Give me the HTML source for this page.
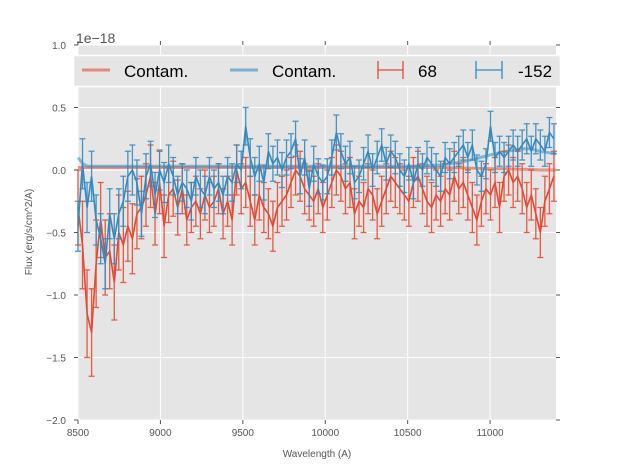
<!DOCTYPE html>
<html><head><meta charset="utf-8"><style>
body{margin:0;background:#fff}
svg{display:block;font-family:"Liberation Sans","DejaVu Sans",sans-serif}
</style></head><body>
<svg id="chart" width="617" height="467" viewBox="0 0 617 467">
<rect x="0" y="0" width="617" height="467" fill="#fff"/>
<rect x="78" y="45" width="478" height="375" fill="#e5e5e5"/>
<g id="grid"></g>
<g id="contam"></g>
<g id="series"></g>
<g id="axes"></g>
<text x="76" y="43" font-size="14" fill="#555">1e−18</text>
<text x="317" y="457" font-size="10" fill="#555" text-anchor="middle">Wavelength (A)</text>
<text x="32" y="232" font-size="10" fill="#555" text-anchor="middle" transform="rotate(-90 32 232)">Flux (erg/s/cm^2/A)</text>
<g>
<rect x="73.5" y="55.5" width="487" height="31" fill="#e5e5e5" stroke="#fff" stroke-width="1.5"/>
<line x1="82" y1="70" x2="110" y2="70" stroke="#E24A33" stroke-opacity="0.6" stroke-width="3"/>
<text x="124" y="77" font-size="17" fill="#000">Contam.</text>
<line x1="230" y1="70" x2="258" y2="70" stroke="#348ABD" stroke-opacity="0.6" stroke-width="3"/>
<text x="272" y="77" font-size="17" fill="#000">Contam.</text>
<g stroke="#E24A33" stroke-width="1.3"><line x1="378" y1="70" x2="403" y2="70"/><line x1="378" y1="61" x2="378" y2="79"/><line x1="403" y1="61" x2="403" y2="79"/></g>
<text x="418" y="77" font-size="17" fill="#000">68</text>
<g stroke="#348ABD" stroke-width="1.3"><line x1="476" y1="70" x2="502" y2="70"/><line x1="476" y1="61" x2="476" y2="79"/><line x1="502" y1="61" x2="502" y2="79"/></g>
<text x="518" y="77" font-size="17" fill="#000">-152</text>
</g>
</svg>
<script>
const xTicks = [8500, 9000, 9500, 10000, 10500, 11000];
const yTicks = [-2.0, -1.5, -1.0, -0.5, 0.0, 0.5, 1.0];
const yTickLabels = ["−2.0", "−1.5", "−1.0", "−0.5", "0.0", "0.5", "1.0"];
const wavelengthStart = 8500;
const wavelengthStep = 27.5;
const redFlux = [-0.3,-0.6,-1.15,-1.3,-0.75,-0.4,-0.7,-0.65,-0.9,-0.5,-0.6,-0.45,-0.55,-0.35,-0.3,-0.2,-0.05,-0.35,-0.1,-0.45,
-0.2,-0.15,-0.3,-0.15,-0.4,-0.3,-0.25,-0.35,-0.2,-0.3,-0.25,-0.15,-0.35,-0.25,-0.4,0.0,-0.15,-0.1,-0.25,-0.4,
-0.2,-0.3,-0.35,-0.45,-0.3,-0.25,-0.2,-0.1,0.0,-0.05,-0.15,-0.2,-0.25,-0.15,-0.3,-0.2,-0.1,0.0,-0.05,-0.15,
-0.1,-0.35,-0.25,-0.3,-0.15,-0.2,-0.35,-0.25,-0.15,-0.05,-0.1,-0.15,-0.2,-0.25,-0.1,-0.05,-0.15,-0.25,-0.3,-0.2,
-0.25,-0.15,-0.2,-0.05,-0.15,-0.1,-0.2,-0.3,-0.4,-0.25,-0.15,-0.2,-0.1,-0.3,-0.05,0.0,-0.1,-0.05,-0.15,-0.3,
-0.2,-0.35,-0.5,-0.25,-0.15,-0.05];
const redErr = [0.3,0.35,0.35,0.35,0.35,0.3,0.3,0.3,0.3,0.3,0.3,0.28,0.28,0.28,0.25,0.25,0.25,0.25,0.25,0.25,
0.22,0.22,0.22,0.2,0.2,0.2,0.2,0.2,0.2,0.2,0.2,0.2,0.2,0.2,0.2,0.2,0.2,0.2,0.2,0.2,
0.2,0.2,0.2,0.2,0.2,0.2,0.2,0.2,0.2,0.2,0.2,0.2,0.2,0.2,0.2,0.2,0.2,0.2,0.2,0.2,
0.2,0.2,0.2,0.2,0.2,0.2,0.2,0.2,0.2,0.2,0.2,0.2,0.2,0.2,0.2,0.2,0.2,0.2,0.2,0.2,
0.2,0.2,0.2,0.2,0.2,0.2,0.2,0.2,0.2,0.2,0.2,0.2,0.2,0.2,0.2,0.2,0.2,0.2,0.2,0.2,
0.2,0.2,0.2,0.2,0.2,0.2];
const blueFlux = [-0.45,0.05,-0.3,-0.05,-0.4,-0.55,-0.75,-0.35,-0.55,-0.35,-0.25,-0.05,0.0,-0.1,-0.35,-0.05,0.05,-0.2,0.0,-0.1,
0.05,-0.05,-0.2,-0.1,-0.15,-0.25,-0.05,-0.15,-0.2,-0.05,-0.15,-0.1,-0.2,-0.05,-0.1,0.05,0.0,0.35,0.1,-0.05,
0.05,-0.1,0.15,0.05,0.1,0.0,0.1,0.15,0.25,-0.05,0.1,-0.15,0.05,-0.05,-0.1,-0.05,0.1,0.3,0.15,0.05,
0.1,-0.1,-0.05,0.05,0.15,0.0,0.1,0.2,0.05,0.15,0.1,0.0,-0.05,0.05,-0.1,0.05,0.0,0.1,0.05,0.0,
-0.05,0.1,0.05,0.1,0.15,0.2,0.1,0.2,0.0,-0.05,0.05,0.35,0.1,0.15,0.1,0.15,0.2,0.15,0.2,0.25,
0.15,0.25,0.2,0.15,0.3,0.25];
const blueErr = [0.2,0.2,0.2,0.2,0.2,0.2,0.2,0.2,0.2,0.2,0.2,0.2,0.2,0.18,0.18,0.18,0.18,0.18,0.16,0.16,
0.15,0.15,0.15,0.15,0.15,0.15,0.15,0.15,0.15,0.15,0.15,0.15,0.15,0.15,0.15,0.15,0.15,0.15,0.15,0.15,
0.14,0.14,0.14,0.14,0.14,0.14,0.14,0.14,0.14,0.14,0.14,0.14,0.14,0.14,0.14,0.14,0.14,0.14,0.14,0.14,
0.13,0.13,0.13,0.13,0.13,0.13,0.13,0.13,0.13,0.13,0.13,0.13,0.13,0.13,0.13,0.13,0.13,0.13,0.13,0.13,
0.12,0.12,0.12,0.12,0.12,0.12,0.12,0.12,0.12,0.12,0.12,0.12,0.12,0.12,0.12,0.12,0.12,0.12,0.12,0.12,
0.12,0.12,0.12,0.12,0.12,0.12];
const contamWave = [8500,8530,8560,9000,9500,10000,10500,10700,10850,11000,11100,11200,11250,11300,11400];
const contamRed = [0.02,0.02,0.02,0.02,0.02,0.02,0.02,0.02,0.015,0.01,0.01,0.005,0.005,0.0,0.0];
const contamBlue = [0.1,0.05,0.03,0.03,0.03,0.03,0.03,0.04,0.07,0.12,0.15,0.17,0.17,0.15,0.13];

const X0=78,X1=556,Y0=420,Y1=45,XMIN=8500,XMAX=11400,YMIN=-2,YMAX=1;
const sx=v=>X0+(v-XMIN)/(XMAX-XMIN)*(X1-X0);
const sy=v=>Y0-(v-YMIN)/(YMAX-YMIN)*(Y0-Y1);
const NS="http://www.w3.org/2000/svg";
function mk(tag,attrs,parent){const e=document.createElementNS(NS,tag);for(const k in attrs)e.setAttribute(k,attrs[k]);parent.appendChild(e);return e;}
const grid=document.getElementById('grid'),axes=document.getElementById('axes'),cont=document.getElementById('contam'),ser=document.getElementById('series');

xTicks.forEach(t=>{
  const x=sx(t);
  const g=mk('line',{x1:x,y1:Y1,x2:x,y2:Y0,stroke:'#fff','stroke-width':1},grid);
  
  
  const tb=mk('line',{x1:x,y1:Y0,x2:x,y2:Y0+4,stroke:'#555'},axes);
  
  
  const tt=mk('line',{x1:x,y1:Y1,x2:x,y2:Y1-4,stroke:'#555'},axes);
  
  
  const lb=mk('text',{x:x,y:Y0+16,'font-size':10,fill:'#555','text-anchor':'middle'},axes);
  lb.textContent=t;
  
  
});
yTicks.forEach((t,i)=>{
  const y=sy(t);
  const g=mk('line',{x1:X0,y1:y,x2:X1,y2:y,stroke:'#fff','stroke-width':1},grid);
  
  
  const tl=mk('line',{x1:X0-4,y1:y,x2:X0,y2:y,stroke:'#555'},axes);
  
  
  const tr=mk('line',{x1:X1,y1:y,x2:X1+4,y2:y,stroke:'#555'},axes);
  
  
  const lb=mk('text',{x:X0-12,y:y+4,'font-size':10,fill:'#555','text-anchor':'end'},axes);
  lb.textContent=yTickLabels[i];
  
  
});

function contamLine(vals,color,name){
  const d=contamWave.map((w,i)=>(i?'L':'M')+sx(w).toFixed(1)+','+sy(vals[i]).toFixed(1)).join('');
  const p=mk('path',{d:d,fill:'none',stroke:color,'stroke-opacity':0.55,'stroke-width':3},cont);
  
  
}
contamLine(contamRed,'#E24A33','contam-line-68');
contamLine(contamBlue,'#348ABD','contam-line-152');

function errSeries(vals,errs,color,name){
  const g=mk('g',{stroke:color,'stroke-width':1.3,fill:'none'},ser);
  
  
  let d='';
  vals.forEach((v,i)=>{
    const x=sx(wavelengthStart+i*wavelengthStep);
    const ya=sy(v+errs[i]),yb=sy(v-errs[i]);
    const e=mk('path',{d:`M${x},${ya}L${x},${yb}M${x-3},${ya}L${x+3},${ya}M${x-3},${yb}L${x+3},${yb}`,'stroke-opacity':0.9},g);
    
    
    d+=(i?'L':'M')+x.toFixed(1)+','+sy(v).toFixed(1);
  });
  const p=mk('path',{d:d,'stroke-width':1.6},g);
  
  
}
errSeries(redFlux,redErr,'#E24A33','series-68');
errSeries(blueFlux,blueErr,'#348ABD','series-152');
</script>
</body></html>
